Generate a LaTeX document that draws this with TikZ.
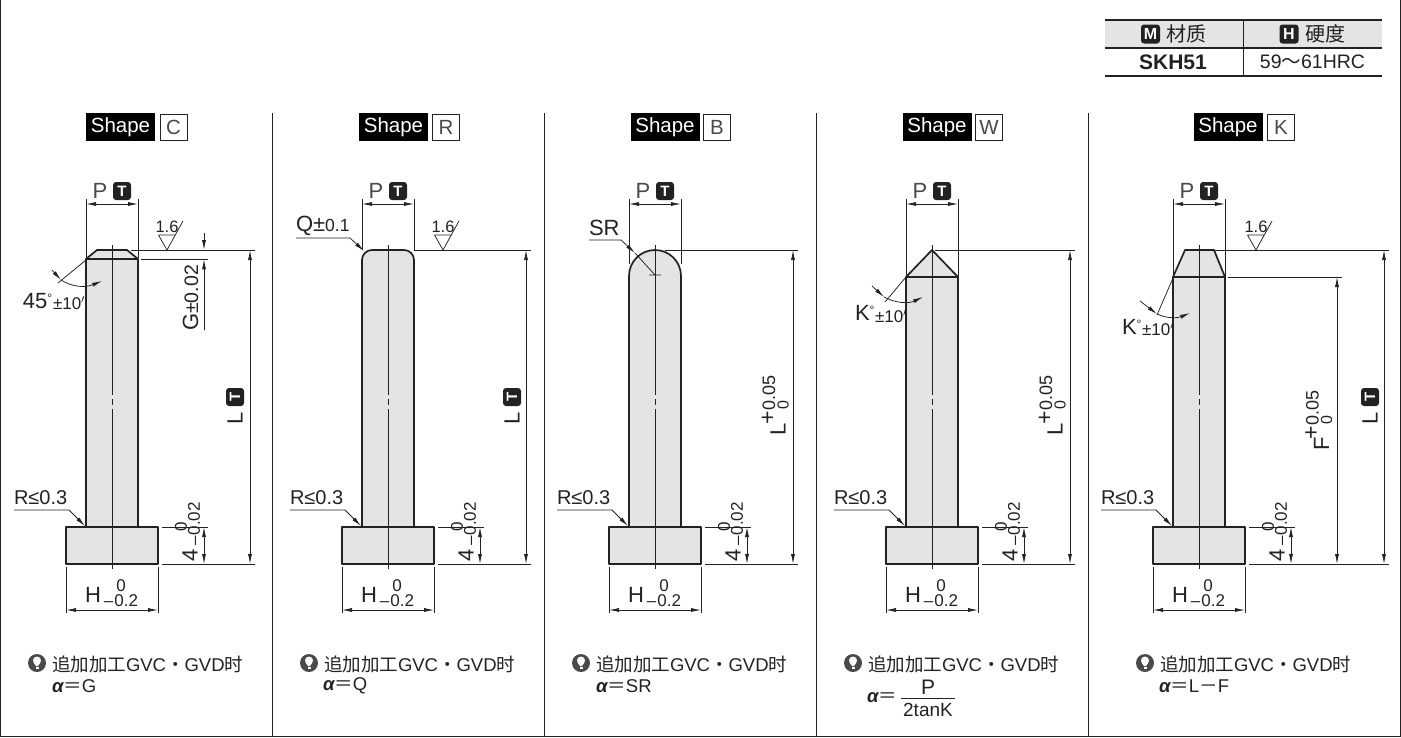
\documentclass[tikz,border=0pt]{standalone}
\usepackage{fontspec}
\setmainfont{Liberation Sans}
\newfontfamily\cjk{Noto Sans CJK SC}
\usetikzlibrary{arrows.meta}
\definecolor{pinfill}{HTML}{E4E4E4}
\definecolor{ink}{HTML}{222222}
\definecolor{soft}{HTML}{4A4A4A}
\newcommand{\bigtxt}{\fontsize{22}{22}\selectfont}
\newcommand{\tagtxt}{\fontsize{20.5}{21}\selectfont}
\newcommand{\midtxt}{\fontsize{18.5}{19}\selectfont}
\newcommand{\smalltxt}{\fontsize{17}{17}\selectfont}
\newcommand{\notefirst}{{\cjk 追加加工}GVC{\cjk ・}GVD{\cjk 时}}
\newcommand{\alphaeq}{{\bfseries\itshape α}{\cjk ＝}}
\newcommand{\degmark}{\raisebox{6pt}{\fontsize{12}{12}\selectfont °}}
\tikzset{
  >={Latex[length=10pt,width=4pt]},
  every node/.style={inner sep=0pt,outer sep=0pt,text=ink},
  pin/.style={draw=ink,line width=1.7pt,fill=pinfill,line join=round},
  thinline/.style={draw=ink,line width=.75pt},
  axisline/.style={draw=ink,line width=.7pt},
  frameline/.style={draw=ink,line width=.9pt},
  tagblack/.style={fill=black,text=white,minimum width=69pt,minimum height=28pt,font=\tagtxt},
  tagwhite/.style={draw=ink,line width=1pt,fill=white,text=soft,minimum width=27pt,minimum height=26pt,font=\tagtxt},
  badge/.style={fill=ink,text=white,rounded corners=3pt,minimum size=18pt,font=\fontsize{15}{15}\selectfont\bfseries},
  dimtxt/.style={font=\bigtxt},
  smalltext/.style={font=\smalltxt},
  notetext/.style={anchor=west,font=\midtxt},
  bulb/.style={circle,fill=soft,minimum size=18pt}
}
\begin{document}
\begin{tikzpicture}[x=1pt,y=-1pt]
  \useasboundingbox (0,0) rectangle (1401,737);

  % frame and column rules
  \draw[frameline] (.5,0) -- (.5,736.3) -- (1400,736.3) -- (1400,0);
  \foreach \sx in {272,544,816,1088}
    \draw[frameline] (\sx,113) -- (\sx,737);

  % table
  \fill[pinfill] (1105,20) rectangle (1382,48);
  \draw[line width=1.4pt,ink] (1105,20) -- (1382,20) (1105,48) -- (1382,48) (1105,76) -- (1382,76);
  \draw[thinline] (1243,20) -- (1243,76);
  \node[badge,minimum size=19pt,font=\fontsize{16}{16}\selectfont\bfseries] (badgeM) at (1150.5,34) {M};
  \node[font=\fontsize{20}{20}\selectfont\cjk] (material) at (1186,34) {材质};
  \node[badge,minimum size=19pt,font=\fontsize{16}{16}\selectfont\bfseries] (badgeH) at (1289,34) {H};
  \node[font=\fontsize{20}{20}\selectfont\cjk] (hardness) at (1325,34) {硬度};
  \node[font=\fontsize{21}{21}\selectfont\bfseries] (steel) at (1173,62) {SKH51};
  \node[font=\fontsize{19.5}{20}\selectfont] (hrc) at (1312.5,62) {59{\cjk ～}61HRC};

  % pin outlines
  \draw[pin] (86,527) -- (86,259) -- (97,250) -- (127,250) -- (138,259) -- (138,527);
  \draw[pin] (86,259.3) -- (138,259.3);
  \draw[pin] (362,527) -- (362,260) arc (180:270:10) -- (404,250) arc (270:360:10) -- (414,527);
  \draw[pin] (629,527) -- (629,276) arc (180:360:26) -- (681,527);
  \draw[pin] (906,527) -- (906,277) -- (932,250) -- (958,277) -- (958,527);
  \draw[pin] (906,277) -- (958,277);
  \draw[pin] (1173,527) -- (1173,277) -- (1185,250) -- (1214,250) -- (1225,277) -- (1225,527);
  \draw[pin] (1173,277) -- (1225,277);

  % parts that all pins share
  \foreach \c/\tag/\sx/\bx/\py in {112/C/120.5/173.5/258,388/R/393.5/446/250,655/B/665/717/264,932/W/937/989/277,1199/K/1228/1281/277} {
    \draw[pin] (\c-46,527) rectangle (\c+46,564);
    \draw[axisline] (\c,245) -- (\c,395) (\c,399) -- (\c,405) (\c,409) -- (\c,569);
    \node[tagblack] (shape\tag) at (\sx,127) {Shape};
    \node[tagwhite] (letter\tag) at (\bx,127) {\tag};
    % P
    \node[dimtxt,text=soft] (p\tag) at (\c-12,191) {P};
    \node[badge] (badge\tag) at (\c+10,191) {T};
    \draw[thinline] (\c-26,199) -- (\c-26,\py) (\c+26,199) -- (\c+26,\py);
    \draw[thinline,<->] (\c-26,204) -- (\c+26,204);
    % H
    \node[dimtxt] (h\tag) at (\c-19,594.5) {H};
    \node[smalltext] (hup\tag) at (\c+9,586) {0};
    \node[smalltext] (hlow\tag) at (\c+9,600.5) {–\kern1pt0.2};
    \draw[thinline] (\c-46,567) -- (\c-46,613) (\c+46,567) -- (\c+46,613);
    \draw[thinline,<->] (\c-46,610) -- (\c+46,610);
    % R
    \node[font=\fontsize{20}{20}\selectfont,anchor=west] (fillet\tag) at (\c-98,498) {R≤0.3};
    \draw[thinline,->] (\c-98,510) -- (\c-43,510) -- (\c-27,526);
    % head thickness
    \node[dimtxt,rotate=90] (four\tag) at (\c+78,555) {4};
    \node[smalltext,rotate=90] (fourup\tag) at (\c+69,527) {0};
    \node[smalltext,rotate=90] (fourlow\tag) at (\c+82,524) {–\kern1pt0.02};
    \draw[thinline] (\c+50,527) -- (\c+96,527);
    \draw[thinline,<->] (\c+92,527) -- (\c+92,564);
    \draw[thinline] (\c+50,564) -- (\c+143,564);
  }

  % roughness marks
  \foreach \ax/\tag in {167/C,443/R,1256/K} {
    \node[font=\fontsize{16.5}{17}\selectfont] (rough\tag) at (\ax,227) {1.6};
    \draw[thinline] (\ax-8.5,235) -- (\ax+8.5,235) (\ax-8.5,235) -- (\ax,250) -- (\ax+16,221);
  }

  % height lines
  \draw[thinline] (131,250) -- (255,250);
  \draw[thinline] (141,259.3) -- (208,259.3);
  \draw[thinline] (414,250) -- (531,250);
  \draw[thinline] (665,250) -- (798,250);
  \draw[thinline] (935,250) -- (1075,250);
  \draw[thinline] (1214,250) -- (1389,250);
  \draw[thinline] (1228,277) -- (1342,277);
  \draw[thinline] (1199+143,564) -- (1389,564);
  \foreach \ax in {250,526,793,1070,1384}
    \draw[thinline,<->] (\ax,250) -- (\ax,564);
  \draw[thinline,<->] (1337,277) -- (1337,564);

  % G on shape C
  \draw[thinline,->] (204,233) -- (204,250);
  \draw[thinline,->] (204,330) -- (204,259.3);
  \node[dimtxt,rotate=90] (gdim) at (190.5,298) {G{\fontsize{19.5}{20}\selectfont ±0.02}};

  % L and F texts
  \foreach \lx/\tag in {235/C,512/R,1370/K} {
    \node[dimtxt,rotate=90] (l\tag) at (\lx,418) {L};
    \node[badge,rotate=90] (lbadge\tag) at (\lx,397) {T};
  }
  \foreach \lx/\tag/\ltxt/\ly in {778/B/L/429,1055/W/L/429,1321.5/K/F/444} {
    \node[dimtxt,rotate=90] (tol\tag) at (\lx,\ly) {\ltxt};
    \node[rotate=90,font=\fontsize{18}{18}\selectfont] (tolup\tag) at (\lx-9.5,\ly-29) {{\fontsize{23}{23}\selectfont +}0.05};
    \node[rotate=90,font=\fontsize{16}{16}\selectfont] (tollow\tag) at (\lx+5,\ly-24) {0};
  }

  % leaders at the top
  \node[font=\bigtxt,anchor=west] (qdim) at (296,226) {Q±{\fontsize{17.5}{18}\selectfont 0.1}};
  \draw[thinline,->] (296,238) -- (350,238) -- (364,251);
  \node[font=\bigtxt,anchor=west] (srdim) at (589,228) {SR};
  \draw[thinline,->] (589,240) -- (621,240) -- (635,253);
  \draw[thinline] (635,253) -- (655,275) (649,275) -- (661,275);

  % angle marks
  \node[font=\bigtxt,anchor=west] (angC) at (23,301) {45\degmark};
  \node[smalltext,anchor=west] (tolC) at (53,303) {±10$'$};
  \draw[thinline] (86,260) -- (58,283);
  \draw[thinline,->] (52,270) -- (61,280);
  \draw[thinline,->] (61,280) .. controls (72,287) and (85,288) .. (102,281);

  \node[font=\bigtxt,anchor=west] (angW) at (855,313) {K\degmark};
  \node[smalltext,anchor=west] (tolW) at (875,316) {±10$'$};
  \draw[thinline] (906,277) -- (885,302);
  \draw[thinline,->] (872,286) -- (884,297);
  \draw[thinline,->] (884,297) .. controls (895,303) and (908,304) .. (923,297);

  \node[font=\bigtxt,anchor=west] (angK) at (1122,327) {K\degmark};
  \node[smalltext,anchor=west] (tolK) at (1142,329) {±10$'$};
  \draw[thinline] (1173,278) -- (1157,315);
  \draw[thinline,->] (1140,301) -- (1157,314);
  \draw[thinline,->] (1157,314) .. controls (1168,319) and (1178,318) .. (1190,313);

  % notes below the pins
  \foreach \nx/\tag in {37/C,309/R,581/B,853/W,1145/K} {
    \node[bulb] (bulb\tag) at (\nx,663) {};
    \fill[white] (\nx,660.5) circle (4);
    \fill[white] (\nx-3.5,662.5) -- (\nx+3.5,662.5) -- (\nx+1,666) -- (\nx-1,666) -- cycle;
    \fill[white] (\nx-1.5,667) rectangle (\nx+1.5,669);
    \node[notetext] (note\tag) at (\nx+15,664) {\notefirst};
  }
  \node[notetext] (alphaC) at (52,686) {\alphaeq G};
  \node[notetext] (alphaR) at (323,686) {\alphaeq Q};
  \node[notetext] (alphaB) at (596,686) {\alphaeq SR};
  \node[notetext] (alphaK) at (1159,686) {\alphaeq L{\cjk －}F};
  \node[notetext] (alphaW) at (867,698) {\alphaeq};
  \node[font=\fontsize{21}{21}\selectfont] (fracup) at (928,687) {P};
  \node[font=\fontsize{19}{19}\selectfont] (fracdown) at (928,710) {2tanK};
  \draw[thinline] (901,698) -- (955,698);
\end{tikzpicture}
\end{document}
